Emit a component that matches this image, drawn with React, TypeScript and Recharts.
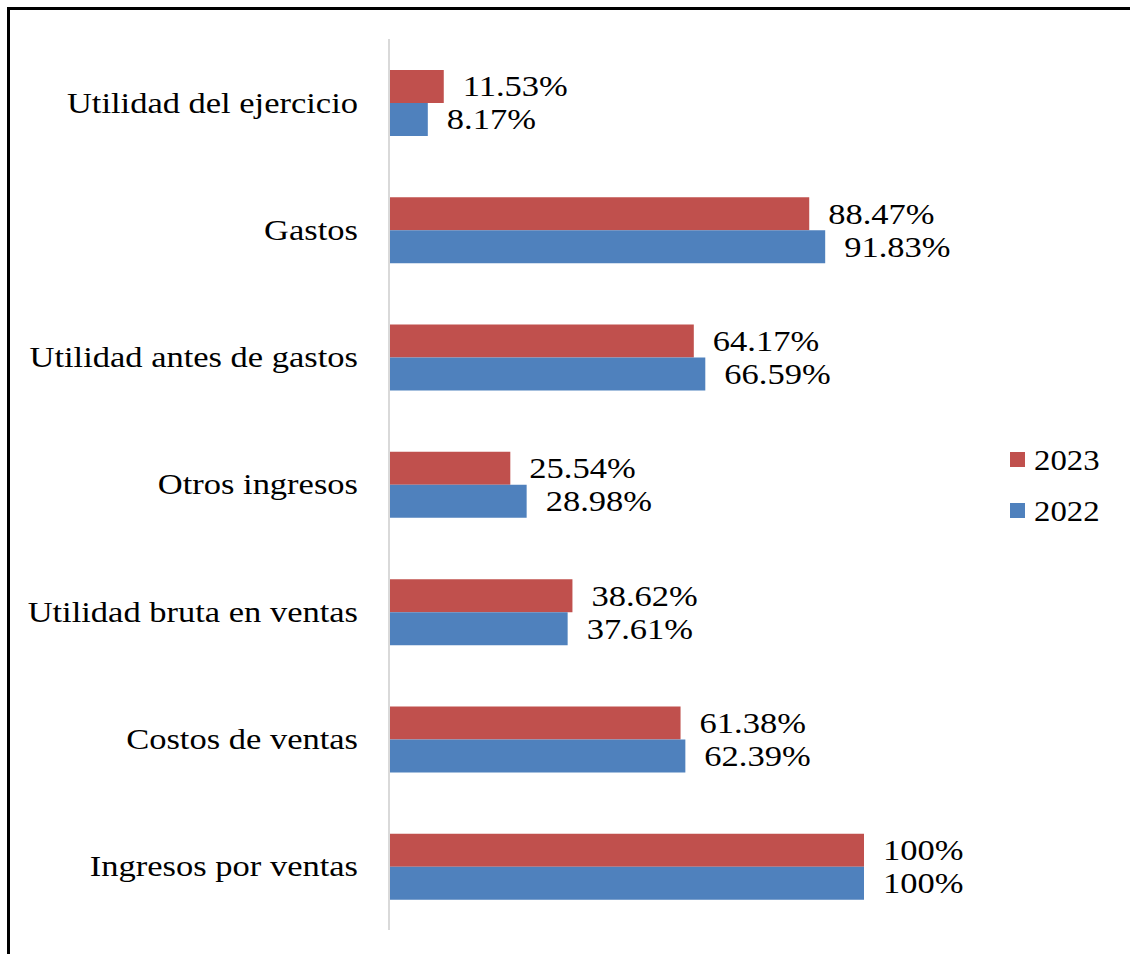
import React from 'react';
import { BarChart, Bar, XAxis, YAxis, Legend, LabelList } from 'recharts';

const categories = [
  'Utilidad del ejercicio',
  'Gastos',
  'Utilidad antes de gastos',
  'Otros ingresos',
  'Utilidad bruta en ventas',
  'Costos de ventas',
  'Ingresos por ventas',
];
const values2023 = [11.53, 88.47, 64.17, 25.54, 38.62, 61.38, 100];
const values2022 = [8.17, 91.83, 66.59, 28.98, 37.61, 62.39, 100];
const seriesNames = ['2023', '2022'];
const seriesColors = ['#C0504D', '#4F81BD'];

const data = categories.map((name, i) => ({
  name,
  y2023: values2023[i],
  y2022: values2022[i],
}));

const FONT = 'Liberation Serif, Times New Roman, serif';
const FS = 30;
const SX = 1.15;

const Tick = (props: any) => {
  const { x, y, payload } = props;
  return (
    <g transform={`translate(${x},${y})`}>
      <text
        transform={`scale(${SX},1)`}
        textAnchor="end"
        dy="0.33em"
        style={{ fontFamily: FONT, fontSize: FS }}
        fill="#000"
      >
        {payload.value}
      </text>
    </g>
  );
};

const BarLabel = (props: any) => {
  const { x, y, width, height, value } = props;
  const tx = Number(x) + Number(width) + 19;
  const ty = Number(y) + Number(height) / 2;
  return (
    <g transform={`translate(${tx},${ty})`}>
      <text
        transform={`scale(${SX},1)`}
        textAnchor="start"
        dy="0.33em"
        style={{ fontFamily: FONT, fontSize: FS }}
        fill="#000"
      >
        {`${value}%`}
      </text>
    </g>
  );
};

const LegendContent = () => {
  return (
    <div style={{ fontFamily: FONT }}>
      {seriesNames.map((name, i) => (
        <div
          key={name}
          style={{ display: 'flex', alignItems: 'center', height: 51 }}
        >
          <span
            style={{
              display: 'inline-block',
              width: 15,
              height: 15,
              background: seriesColors[i],
              marginRight: 9,
            }}
          />
          <span
            style={{
              display: 'inline-block',
              fontSize: 29,
              color: '#000',
              transform: 'scale(1.13,1)',
              transformOrigin: 'left center',
              lineHeight: '30px',
            }}
          >
            {name}
          </span>
        </div>
      ))}
    </div>
  );
};

export default function App() {
  return (
    <div
      style={{
        position: 'absolute',
        left: 0,
        top: 0,
        width: 1130,
        height: 954,
        overflow: 'hidden',
        background: '#fff',
      }}
    >
      <div
        style={{
          position: 'absolute',
          left: 7,
          top: 7,
          width: 1160,
          height: 990,
          border: '3px solid #000',
          boxSizing: 'border-box',
        }}
      />
      <div style={{ position: 'absolute', left: 0, top: 0 }}>
        <BarChart
          width={1130}
          height={954}
          data={data}
          layout="vertical"
          margin={{ top: 39, bottom: 24, left: 0, right: 266 }}
          barSize={33}
          barGap={0}
        >
          <XAxis type="number" domain={[0, 100]} hide />
          <YAxis
            type="category"
            dataKey="name"
            width={389}
            tickSize={0}
            tickMargin={31}
            tickLine={false}
            axisLine={{ stroke: '#d9d9d9', strokeWidth: 2 }}
            tick={<Tick />}
            interval={0}
          />
          <Legend
            layout="vertical"
            align="center"
            verticalAlign="middle"
            content={<LegendContent />}
            wrapperStyle={{ position: 'absolute', left: 1010, top: 434, width: 120 }}
          />
          <Bar
            dataKey="y2023"
            name={seriesNames[0]}
            fill={seriesColors[0]}
            isAnimationActive={false}
          >
            <LabelList dataKey="y2023" content={<BarLabel />} />
          </Bar>
          <Bar
            dataKey="y2022"
            name={seriesNames[1]}
            fill={seriesColors[1]}
            isAnimationActive={false}
          >
            <LabelList dataKey="y2022" content={<BarLabel />} />
          </Bar>
        </BarChart>
      </div>
    </div>
  );
}
